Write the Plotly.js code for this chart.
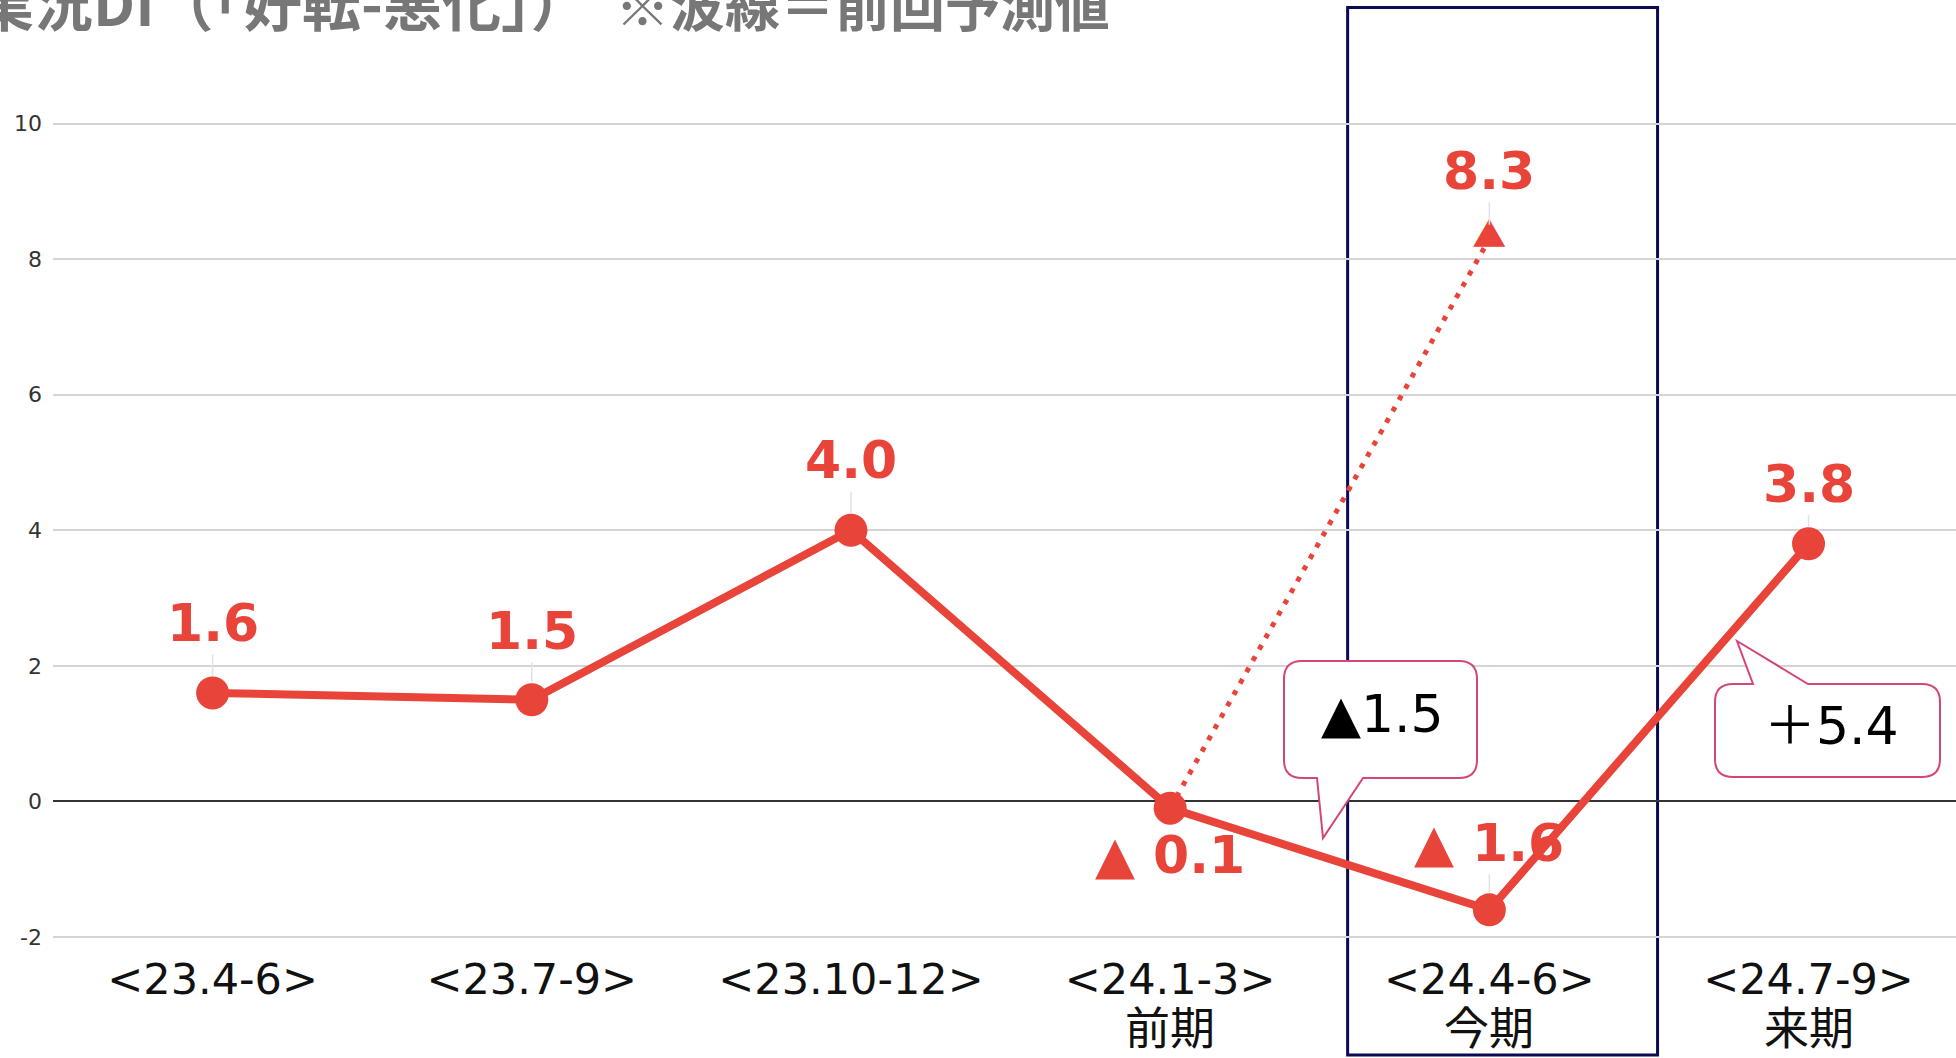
<!DOCTYPE html>
<html>
<head>
<meta charset="utf-8">
<script src="https://cdn.plot.ly/plotly-3.0.1.min.js"></script>
<style>
  html, body { margin: 0; padding: 0; background: #ffffff; }
  #chart { width: 1956px; height: 1058px; }
</style>
</head>
<body>
<div id="chart"></div>
<script>
// Quarterly business-condition DI ("improved" minus "worsened")
const periods = ['<23.4-6>', '<23.7-9>', '<23.10-12>', '<24.1-3>', '<24.4-6>', '<24.7-9>'];
const periodTags = ['', '', '', '前期', '今期', '来期'];
const diValues = [1.6, 1.5, 4.0, -0.1, -1.6, 3.8];

// Previous forecast for the current quarter (dotted line)
const forecastPeriods = ['<24.1-3>', '<24.4-6>'];
const forecastValues = [-0.1, 8.3];

const yTicks = [-2, 0, 2, 4, 6, 8, 10];
const yTickText = ['-2', '0', '2', '4', '6', '8', '10'];

// ---- page geometry ----
const W = 1956, H = 1058;
const M = { l: 53, r: 0, t: 0, b: 108 };
const PW = W - M.l - M.r, PH = H - M.t - M.b;
const px = x => (x - M.l) / PW;          // pixel -> paper x
const py = y => 1 - (y - M.t) / PH;      // pixel -> paper y

const RED = '#e8443a';
const NAVY = '#0b0b55';
const PINK = '#d4467a';
const LABEL_FONT = 'DejaVu Sans, Liberation Sans, sans-serif';

const fmtValue = v => (v < 0 ? '▲ ' + Math.abs(v).toFixed(1) : v.toFixed(1));
const fmtChange = v => (v < 0 ? '▲' : '＋') + Math.abs(v).toFixed(1);

// rounded callout box with a pointer; p = pixel geometry
function calloutPath(p) {
  const { l, r, t, b, rad, tail } = p;
  const P = (x, y) => px(x).toFixed(5) + ',' + py(y).toFixed(5);
  let d = 'M' + P(l + rad, t);
  if (tail.side === 'top') {
    d += ' L' + P(tail.a, t) + ' L' + P(tail.tipX, tail.tipY) + ' L' + P(tail.b, t);
  }
  d += ' L' + P(r - rad, t) + ' Q' + P(r, t) + ' ' + P(r, t + rad);
  d += ' L' + P(r, b - rad) + ' Q' + P(r, b) + ' ' + P(r - rad, b);
  if (tail.side === 'bottom') {
    d += ' L' + P(tail.b, b) + ' L' + P(tail.tipX, tail.tipY) + ' L' + P(tail.a, b);
  }
  d += ' L' + P(l + rad, b) + ' Q' + P(l, b) + ' ' + P(l, b - rad);
  d += ' L' + P(l, t + rad) + ' Q' + P(l, t) + ' ' + P(l + rad, t) + ' Z';
  return d;
}

const traces = [
  {
    type: 'scatter', mode: 'lines',
    x: forecastPeriods, y: forecastValues,
    line: { color: RED, width: 5, dash: '5px,8px' },
    hoverinfo: 'skip'
  },
  {
    type: 'scatter', mode: 'text',
    x: forecastPeriods.slice(-1), y: forecastValues.slice(-1),
    text: ['▲'],
    textposition: 'middle center',
    textfont: { family: 'Noto Sans CJK JP', size: 34, color: RED },
    hoverinfo: 'skip'
  },
  {
    type: 'scatter', mode: 'lines+markers',
    x: periods, y: diValues,
    line: { color: RED, width: 8 },
    marker: { color: RED, size: 33, line: { width: 0 } },
    hoverinfo: 'skip'
  }
];

const labelOffsets = [-70, -69, -70, 47, -67, -60];
const annotations = [];

diValues.forEach((v, i) => {
  annotations.push({
    x: periods[i], y: v, xref: 'x', yref: 'y',
    text: '<b>' + fmtValue(v) + '</b>',
    font: { family: LABEL_FONT, size: 52, color: RED },
    showarrow: true, arrowhead: 0, arrowwidth: 1.5, arrowcolor: '#e2e2e2',
    ax: 0, ay: labelOffsets[i], standoff: 17
  });
});

annotations.push({
  x: forecastPeriods[1], y: forecastValues[1], xref: 'x', yref: 'y',
  text: '<b>' + fmtValue(forecastValues[1]) + '</b>',
  font: { family: LABEL_FONT, size: 52, color: RED },
  showarrow: true, arrowhead: 0, arrowwidth: 1.5, arrowcolor: '#e2e2e2',
  ax: 0, ay: -68, standoff: 14
});

// second line of the period labels
periods.forEach((p, i) => {
  if (!periodTags[i]) return;
  annotations.push({
    x: p, xref: 'x', y: py(1025), yref: 'paper', yanchor: 'middle', xanchor: 'center',
    text: periodTags[i], showarrow: false,
    font: { family: 'Noto Sans CJK JP', size: 45, color: '#111' }
  });
});

// quarter-on-quarter changes
const chgNow = diValues[4] - diValues[3];
const chgNext = diValues[5] - diValues[4];
annotations.push({
  x: px(1382), y: py(714), xref: 'paper', yref: 'paper',
  xanchor: 'center', yanchor: 'middle',
  text: fmtChange(chgNow), showarrow: false,
  font: { family: 'DejaVu Sans, Noto Sans CJK JP', size: 52, color: '#000' }
});
annotations.push({
  x: px(1831), y: py(726), xref: 'paper', yref: 'paper',
  xanchor: 'center', yanchor: 'middle',
  text: fmtChange(chgNext), showarrow: false,
  font: { family: 'DejaVu Sans, Noto Sans CJK JP', size: 52, color: '#000' }
});

// heading
annotations.push({
  x: px(1112), y: py(0), xref: 'paper', yref: 'paper',
  xanchor: 'right', yanchor: 'middle',
  text: '<b><span style="font-size:59px">業況DI（「好転-悪化」）</span>　※波線＝前回予測値</b>',
  showarrow: false,
  font: { family: 'Noto Sans CJK JP', size: 55, color: '#777777' }
});

const shapes = [
  {
    type: 'rect', xref: 'x', yref: 'paper',
    x0: 3.556, x1: 4.527, y0: py(1055), y1: py(7.5),
    line: { color: NAVY, width: 3 }, fillcolor: 'rgba(0,0,0,0)', layer: 'between'
  },
  {
    type: 'path', xref: 'paper', yref: 'paper', layer: 'above',
    path: calloutPath({ l: 1284, r: 1477, t: 661, b: 778, rad: 18,
      tail: { side: 'bottom', a: 1317, b: 1363, tipX: 1323, tipY: 838 } }),
    line: { color: PINK, width: 2 }, fillcolor: '#ffffff'
  },
  {
    type: 'path', xref: 'paper', yref: 'paper', layer: 'above',
    path: calloutPath({ l: 1715, r: 1940, t: 684, b: 777, rad: 18,
      tail: { side: 'top', a: 1753, b: 1808, tipX: 1737, tipY: 641 } }),
    line: { color: PINK, width: 2 }, fillcolor: '#ffffff'
  }
];

const layout = {
  width: W, height: H,
  margin: { l: M.l, r: M.r, t: M.t, b: M.b, pad: 0 },
  paper_bgcolor: '#ffffff', plot_bgcolor: '#ffffff',
  showlegend: false,
  font: { family: 'DejaVu Sans, sans-serif', color: '#333' },
  xaxis: {
    type: 'category', categoryorder: 'array', categoryarray: periods,
    range: [-0.5, 5.462],
    showgrid: false, zeroline: false, showline: false, ticks: '',
    tickfont: { family: 'DejaVu Sans, sans-serif', size: 43, color: '#111' },
    fixedrange: true
  },
  yaxis: {
    range: [-2.192, 11.822],
    tickmode: 'array', tickvals: yTicks, ticktext: yTickText,
    showgrid: true, gridcolor: '#d4d4d4', gridwidth: 2,
    zeroline: true, zerolinecolor: '#333333', zerolinewidth: 2,
    showline: false, ticks: '', ticklabelstandoff: 10,
    tickfont: { family: 'DejaVu Sans, sans-serif', size: 22, color: '#333' },
    fixedrange: true
  },
  annotations: annotations,
  shapes: shapes
};

Plotly.newPlot('chart', traces, layout, { displayModeBar: false, staticPlot: true });
</script>
</body>
</html>
